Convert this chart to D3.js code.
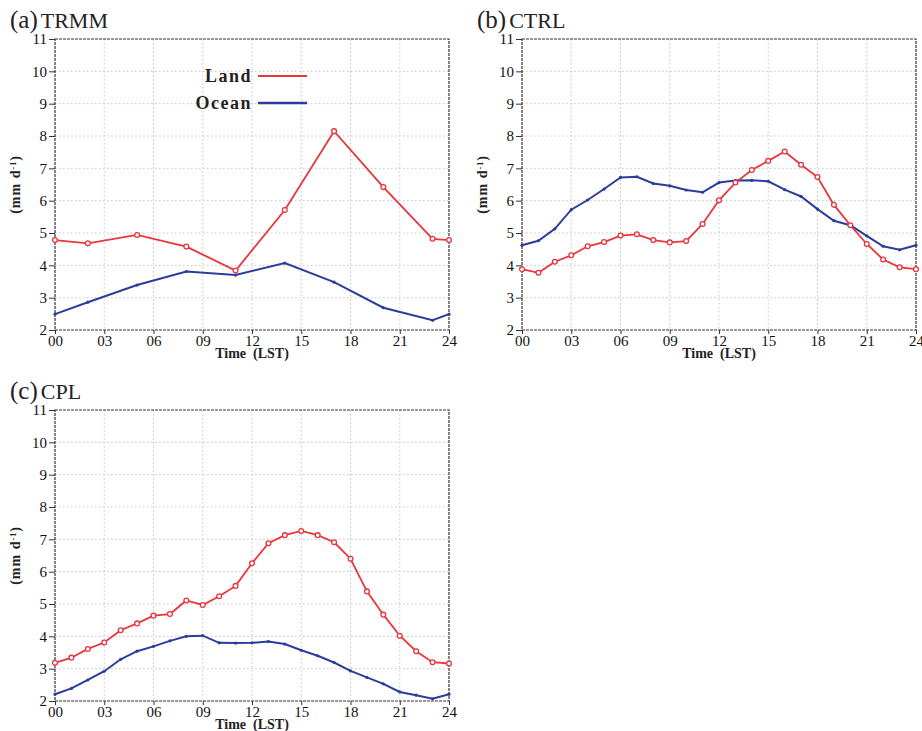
<!DOCTYPE html>
<html>
<head>
<meta charset="utf-8">
<script src="https://cdn.jsdelivr.net/npm/d3@7"></script>
<style>
  body { margin: 0; background: #fff; }
  svg { display: block; }
</style>
</head>
<body>
<svg id="chart" width="922" height="731"></svg>
<script>
// ---- data (mm/day) ----
const yTicks = [2, 3, 4, 5, 6, 7, 8, 9, 10, 11];
const xTicks = [0, 3, 6, 9, 12, 15, 18, 21, 24];
const xTickLabels = ['00', '03', '06', '09', '12', '15', '18', '21', '24'];

const trmmHours = [0, 2, 5, 8, 11, 14, 17, 20, 23, 24];
const trmmLand = [4.78, 4.68, 4.94, 4.58, 3.84, 5.71, 8.15, 6.42, 4.82, 4.78];
const trmmOcean = [2.49, 2.86, 3.39, 3.81, 3.70, 4.07, 3.48, 2.69, 2.30, 2.49];

const hourly = d3.range(0, 25);
const ctrlLand = [3.88, 3.77, 4.11, 4.31, 4.59, 4.72, 4.92, 4.96, 4.78, 4.71, 4.75, 5.28, 6.01,
  6.56, 6.95, 7.23, 7.52, 7.11, 6.73, 5.87, 5.24, 4.66, 4.18, 3.94, 3.88];
const ctrlOcean = [4.62, 4.76, 5.13, 5.72, 6.02, 6.36, 6.72, 6.74, 6.53, 6.46, 6.33, 6.26, 6.56,
  6.62, 6.63, 6.60, 6.34, 6.13, 5.74, 5.38, 5.24, 4.91, 4.59, 4.48, 4.62];

const cplLand = [3.18, 3.34, 3.61, 3.81, 4.19, 4.40, 4.64, 4.69, 5.11, 4.97, 5.24, 5.56, 6.26,
  6.88, 7.13, 7.26, 7.13, 6.91, 6.40, 5.39, 4.67, 4.02, 3.54, 3.20, 3.16];
const cplOcean = [2.21, 2.39, 2.65, 2.92, 3.29, 3.54, 3.69, 3.86, 4.00, 4.02, 3.80, 3.79, 3.80,
  3.84, 3.76, 3.57, 3.40, 3.19, 2.93, 2.73, 2.53, 2.28, 2.18, 2.07, 2.21];

const legendLabels = ['Land', 'Ocean'];

const red = '#e8353e', blue = '#2b3d9c';
const serif = '"Liberation Serif", "DejaVu Serif", serif';

const svg = d3.select('#chart');

const panels = [
  { tag: '(a)', name: 'TRMM', left: 55, top: 39, hours: trmmHours, land: trmmLand, ocean: trmmOcean, legend: true },
  { tag: '(b)', name: 'CTRL', left: 522, top: 39, hours: hourly, land: ctrlLand, ocean: ctrlOcean },
  { tag: '(c)', name: 'CPL', left: 55, top: 410, hours: hourly, land: cplLand, ocean: cplOcean }
];

const W = 394, H = 291;

panels.forEach(p => drawPanel(p));

function drawPanel(p) {
  const g = svg.append('g').attr('transform', `translate(${p.left},${p.top})`);
  const x = d3.scaleLinear().domain([0, 24]).range([0, W]);
  const y = d3.scaleLinear().domain([2, 11]).range([H, 0]);

  // grid
  g.append('g').selectAll('line.gx')
    .data(xTicks.slice(1, -1)).enter().append('line')
    .attr('x1', d => x(d)).attr('x2', d => x(d))
    .attr('y1', 0).attr('y2', H)
    .attr('stroke', '#c4c4c4').attr('stroke-dasharray', '1.5,2.5');
  g.append('g').selectAll('line.gy')
    .data(yTicks.slice(1, -1)).enter().append('line')
    .attr('x1', 0).attr('x2', W)
    .attr('y1', d => y(d)).attr('y2', d => y(d))
    .attr('stroke', '#c4c4c4').attr('stroke-dasharray', '1.5,2.5');

  // axes
  const yAxis = d3.axisLeft(y).tickValues(yTicks).tickSize(6).tickPadding(2).tickFormat(d3.format('d'));
  const ya = g.append('g').call(yAxis);
  const xAxis = d3.axisBottom(x).tickValues(xTicks).tickSize(4).tickPadding(1)
    .tickFormat((d, i) => xTickLabels[i]);
  const xa = g.append('g').attr('transform', `translate(0,${H})`).call(xAxis);
  [ya, xa].forEach(a => {
    a.select('.domain').remove();
    a.selectAll('.tick line').attr('stroke', '#333');
    a.selectAll('.tick text').attr('fill', '#111')
      .style('font-family', serif).style('font-size', '15px');
  });

  // frame
  g.append('rect').attr('width', W).attr('height', H)
    .attr('fill', 'none').attr('stroke', '#333').attr('stroke-width', 1.2)
    .attr('stroke-dasharray', '3,1');

  // lines
  const line = d3.line().x((d, i) => x(p.hours[i])).y(d => y(d));
  g.append('path').datum(p.ocean).attr('d', line)
    .attr('fill', 'none').attr('stroke', blue).attr('stroke-width', 2);
  g.append('path').datum(p.land).attr('d', line)
    .attr('fill', 'none').attr('stroke', red).attr('stroke-width', 1.8);

  g.append('g').selectAll('circle')
    .data(p.ocean).enter().append('circle')
    .attr('cx', (d, i) => x(p.hours[i])).attr('cy', d => y(d))
    .attr('r', 1.6).attr('fill', blue);
  g.append('g').selectAll('circle')
    .data(p.land).enter().append('circle')
    .attr('cx', (d, i) => x(p.hours[i])).attr('cy', d => y(d))
    .attr('r', 2.4).attr('fill', '#fff').attr('stroke', red).attr('stroke-width', 1.3);

  // axis titles
  g.append('text').attr('x', W / 2).attr('y', H + 28)
    .attr('text-anchor', 'middle')
    .style('font-family', serif).style('font-weight', 'bold').style('font-size', '14px')
    .attr('fill', '#222')
    .html('Time&#160;&#160;(LST)');
  g.append('text')
    .attr('transform', `translate(-35,${H / 2}) rotate(-90)`)
    .attr('text-anchor', 'middle')
    .style('font-family', serif).style('font-weight', 'bold').style('font-size', '14px')
    .style('letter-spacing', '1px')
    .attr('fill', '#222')
    .html('(mm d<tspan baseline-shift="super" font-size="8px">-1</tspan>)');

  // panel title
  const t = g.append('text').attr('x', -45).attr('y', -11)
    .style('font-family', serif).attr('fill', '#222');
  t.append('tspan').style('font-size', '25px').text(p.tag);
  t.append('tspan').attr('dx', 3).style('font-size', '22px').text(p.name);

  if (p.legend) {
    const lg = g.append('g');
    const colors = [red, blue];
    const ys = [37, 64];
    legendLabels.forEach((lab, i) => {
      lg.append('text').attr('x', 197).attr('y', ys[i] + 6)
        .attr('text-anchor', 'end')
        .style('font-family', serif)
        .style('font-weight', 'bold').style('font-size', '18px')
        .style('letter-spacing', '1.5px')
        .attr('fill', '#222').text(lab);
      lg.append('line').attr('x1', 203).attr('x2', 252)
        .attr('y1', ys[i]).attr('y2', ys[i])
        .attr('stroke', colors[i]).attr('stroke-width', i ? 2.4 : 1.8);
    });
  }
}
</script>
</body>
</html>
